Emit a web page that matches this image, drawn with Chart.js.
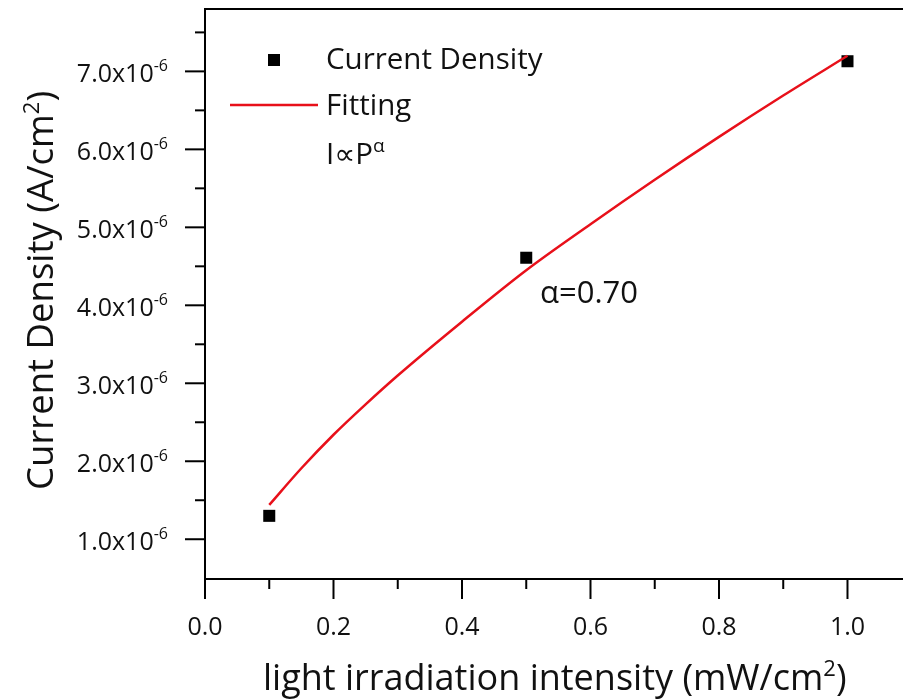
<!DOCTYPE html>
<html>
<head>
<meta charset="utf-8">
<script src="https://cdn.jsdelivr.net/npm/chart.js@4.4.1/dist/chart.umd.min.js"></script>
<style>
  html, body { margin: 0; padding: 0; background: #fff; overflow: hidden; }
  canvas { display: block; }
</style>
</head>
<body>
<canvas id="grafico" width="903" height="700"></canvas>
<script>
// measured points
const irradiance = [0.1, 0.5, 1.0];
const currentDensity = [1.30e-6, 4.61e-6, 7.13e-6];

// fitted curve
const fitIrradiance = [0.1, 0.15, 0.2, 0.25, 0.3, 0.4, 0.5, 0.6, 0.7, 0.8, 0.9, 1.0];
const fitCurrent = [1.44e-6, 1.91e-6, 2.34e-6, 2.73e-6, 3.10e-6, 3.79e-6, 4.45e-6, 5.04e-6, 5.61e-6, 6.16e-6, 6.69e-6, 7.20e-6];

// tick labels
const xTickLabels = ['0.0', '0.2', '0.4', '0.6', '0.8', '1.0'];
const yTickLabels = ['1.0', '2.0', '3.0', '4.0', '5.0', '6.0', '7.0'];
const yTickExponent = '-6';

const FONT = "'Open Sans', 'DejaVu Sans', sans-serif";
const INK = '#111';
const RED = '#e8101a';

function larguraRica(ctx, partes) {
    let w = 0;
    partes.forEach(p => {
        ctx.font = `${p.size}px ${FONT}`;
        w += ctx.measureText(p.text).width;
    });
    return w;
}

function textoRico(ctx, partes, x, y) {
    let cx = x;
    partes.forEach(p => {
        ctx.font = `${p.size}px ${FONT}`;
        ctx.fillText(p.text, cx, y - (p.rise || 0));
        cx += ctx.measureText(p.text).width;
    });
    return cx;
}

// ticks, labels, frame and texts drawn on top of the chart
const moldura = {
    id: 'moldura',
    afterDraw(chart) {
        const { ctx, chartArea, scales: { x, y } } = chart;
        ctx.save();
        ctx.strokeStyle = '#000';
        ctx.fillStyle = INK;
        ctx.lineWidth = 2;
        ctx.textBaseline = 'alphabetic';
        ctx.textAlign = 'left';

        // top line of the frame
        ctx.beginPath();
        ctx.moveTo(chartArea.left - 1, chartArea.top);
        ctx.lineTo(chart.width, chartArea.top);
        ctx.stroke();

        // x ticks
        const xMajor = xTickLabels.map(Number);
        const passoX = xMajor[1] - xMajor[0];
        xMajor.forEach((v, i) => {
            const px = x.getPixelForValue(v);
            ctx.beginPath();
            ctx.moveTo(px, chartArea.bottom);
            ctx.lineTo(px, chartArea.bottom + 20);
            ctx.stroke();
            const meio = v + passoX / 2;
            if (meio < x.max) {
                const pm = x.getPixelForValue(meio);
                ctx.beginPath();
                ctx.moveTo(pm, chartArea.bottom);
                ctx.lineTo(pm, chartArea.bottom + 10);
                ctx.stroke();
            }
            ctx.font = `25px ${FONT}`;
            const w = ctx.measureText(xTickLabels[i]).width;
            ctx.fillText(xTickLabels[i], px - w / 2, 635);
        });

        // y ticks
        const yMajor = yTickLabels.map(t => Number(t) * 1e-6);
        const passoY = yMajor[1] - yMajor[0];
        yMajor.forEach((v, i) => {
            const py = y.getPixelForValue(v);
            ctx.beginPath();
            ctx.moveTo(chartArea.left, py);
            ctx.lineTo(chartArea.left - 20, py);
            ctx.stroke();
            const meio = v + passoY / 2;
            if (meio < y.max) {
                const pm = y.getPixelForValue(meio);
                ctx.beginPath();
                ctx.moveTo(chartArea.left, pm);
                ctx.lineTo(chartArea.left - 10, pm);
                ctx.stroke();
            }
            const partes = [
                { text: yTickLabels[i] + 'x10', size: 25 },
                { text: yTickExponent, size: 16, rise: 10.5 }
            ];
            const w = larguraRica(ctx, partes);
            textoRico(ctx, partes, 168 - w, py + 10.5);
        });

        // axis titles
        textoRico(ctx, [
            { text: 'light irradiation intensity (mW/cm', size: 36 },
            { text: '2', size: 22, rise: 14 },
            { text: ')', size: 36 }
        ], 263, 690);

        ctx.save();
        ctx.translate(53, 490);
        ctx.rotate(-Math.PI / 2);
        textoRico(ctx, [
            { text: 'Current Density (A/cm', size: 36.5 },
            { text: '2', size: 22, rise: 14 },
            { text: ')', size: 36.5 }
        ], 0, 0);
        ctx.restore();

        // legend
        ctx.fillStyle = '#000';
        ctx.fillRect(268, 54, 12, 12);
        ctx.strokeStyle = RED;
        ctx.lineWidth = 2.5;
        ctx.beginPath();
        ctx.moveTo(230, 105);
        ctx.lineTo(318, 105);
        ctx.stroke();

        ctx.fillStyle = INK;
        textoRico(ctx, [{ text: 'Current Density', size: 29.5 }], 326, 69);
        textoRico(ctx, [{ text: 'Fitting', size: 29.5 }], 326, 115);
        textoRico(ctx, [
            { text: 'I\u221DP', size: 29.5 },
            { text: '\u03B1', size: 19, rise: 12 }
        ], 326, 164);

        textoRico(ctx, [{ text: '\u03B1=0.70', size: 31 }], 540, 303);

        ctx.restore();
    }
};

new Chart(document.getElementById('grafico'), {
    type: 'scatter',
    data: {
        datasets: [
            {
                label: 'Fitting',
                data: fitIrradiance.map((v, i) => ({ x: v, y: fitCurrent[i] })),
                showLine: true,
                borderColor: RED,
                borderWidth: 2.5,
                pointRadius: 0,
                cubicInterpolationMode: 'monotone',
                order: 0
            },
            {
                label: 'Current Density',
                data: irradiance.map((v, i) => ({ x: v, y: currentDensity[i] })),
                pointStyle: 'rect',
                pointRadius: 8.5,
                backgroundColor: '#000',
                borderColor: '#000',
                borderWidth: 0,
                order: 1
            }
        ]
    },
    options: {
        responsive: false,
        animation: false,
        events: [],
        layout: { autoPadding: false, padding: { top: 9, right: 0, left: 0, bottom: 0 } },
        plugins: {
            legend: { display: false },
            tooltip: { enabled: false }
        },
        scales: {
            x: {
                type: 'linear',
                min: 0,
                max: 1.0864,
                grid: { display: false },
                border: { display: true, color: '#000', width: 2 },
                ticks: { display: false },
                afterFit: s => { s.height = 121; }
            },
            y: {
                type: 'linear',
                min: 0.49e-6,
                max: 7.8e-6,
                grid: { display: false },
                border: { display: true, color: '#000', width: 2 },
                ticks: { display: false },
                afterFit: s => { s.width = 205; }
            }
        }
    },
    plugins: [moldura]
});
</script>
</body>
</html>
